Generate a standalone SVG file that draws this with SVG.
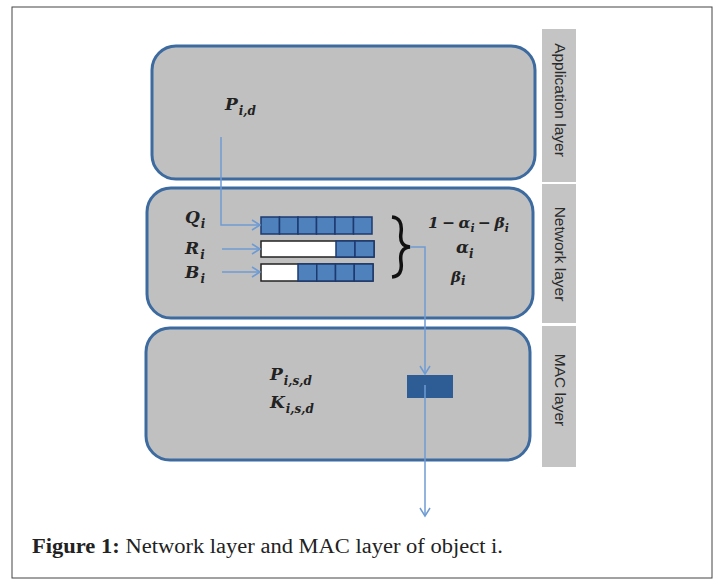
<svg xmlns="http://www.w3.org/2000/svg" width="725" height="586" viewBox="0 0 725 586">
<defs>
<style>
.layer{fill:#c0c0c0;stroke:#3d6b9f;stroke-width:3}
.side{fill:#c4c4c4}
.sidet{font-family:"Liberation Sans",Arial,sans-serif;font-size:15.5px;fill:#2a2a2a;text-anchor:middle}
.m{font-family:"DejaVu Serif","Liberation Serif",serif;font-style:italic;font-weight:bold;fill:#222}
.big{font-size:17px}
.sub{font-size:12px}
.conn{fill:none;stroke:#6e9bd3;stroke-width:1.5}
.cell{fill:#4f81bd;stroke:#1c3a70;stroke-width:1.5}
.bar{fill:#fff;stroke:#222;stroke-width:1.5}
.cap{font-family:"Liberation Serif","Times New Roman",serif;font-size:20px;fill:#222}
</style>
<marker id="ah" markerWidth="12" markerHeight="12" refX="10" refY="6" orient="auto" markerUnits="userSpaceOnUse">
<path d="M2,1 L10,6 L2,11" fill="none" stroke="#6e9bd3" stroke-width="1.5"/>
</marker>
</defs>
<rect x="0" y="0" width="725" height="586" fill="#fff"/>
<rect x="12" y="7" width="700" height="571" fill="none" stroke="#444" stroke-width="1"/>

<g id="side-labels">
<rect class="side" x="542" y="29" width="34" height="153"/>
<rect class="side" x="542" y="184" width="34" height="139"/>
<rect class="side" x="542" y="326" width="34" height="141"/>
<text class="sidet" transform="translate(555,100) rotate(90)">Application layer</text>
<text class="sidet" transform="translate(555,254) rotate(90)">Network layer</text>
<text class="sidet" transform="translate(555,390) rotate(90)">MAC layer</text>
</g>

<g id="application-layer">
<rect class="layer" x="152" y="46" width="383" height="133" rx="24"/>
<text class="m big" x="225" y="110">P<tspan class="sub" dx="1" dy="5">i,d</tspan></text>
</g>

<g id="network-layer">
<rect class="layer" x="147" y="188" width="386" height="130" rx="24"/>
<text class="m big" x="185" y="223">Q<tspan class="sub" dx="1" dy="5">i</tspan></text>
<text class="m big" x="185" y="254">R<tspan class="sub" dx="1" dy="5">i</tspan></text>
<text class="m big" x="185" y="278">B<tspan class="sub" dx="1" dy="5">i</tspan></text>
<g id="queue-q">
<rect class="cell" x="261" y="217" width="18.5" height="17"/>
<rect class="cell" x="279.5" y="217" width="18.5" height="17"/>
<rect class="cell" x="298" y="217" width="18.5" height="17"/>
<rect class="cell" x="316.5" y="217" width="18.5" height="17"/>
<rect class="cell" x="335" y="217" width="18.5" height="17"/>
<rect class="cell" x="353.5" y="217" width="18.5" height="17"/>
</g>
<g id="queue-r">
<rect class="bar" x="261" y="241" width="113" height="16"/>
<rect class="cell" x="336" y="241" width="19" height="16"/>
<rect class="cell" x="355" y="241" width="19" height="16"/>
</g>
<g id="queue-b">
<rect class="bar" x="261" y="264" width="112" height="17"/>
<rect class="cell" x="298" y="264" width="18.75" height="17"/>
<rect class="cell" x="316.75" y="264" width="18.75" height="17"/>
<rect class="cell" x="335.5" y="264" width="18.75" height="17"/>
<rect class="cell" x="354.25" y="264" width="18.75" height="17"/>
</g>
<path d="M392,217 Q403,218 401,233 Q399,246 410,247 Q399,248 401,262 Q403,276 392,277" fill="none" stroke="#111" stroke-width="3.5"/>
<text class="m" x="428" y="228" style="font-size:15.5px;word-spacing:-2px">1 − α<tspan style="font-size:11px" dy="4">i</tspan><tspan dy="-4"> − β</tspan><tspan style="font-size:11px" dy="4">i</tspan></text>
<text class="m big" x="456" y="253">α<tspan class="sub" dy="5">i</tspan></text>
<text class="m big" x="451" y="282" style="font-size:15px">β<tspan class="sub" dy="3">i</tspan></text>
</g>

<g id="mac-layer">
<rect class="layer" x="146" y="328" width="384" height="132" rx="24"/>
<rect x="407" y="375" width="46" height="23" fill="#2e5c94"/>
<text class="m big" x="270" y="380">P<tspan class="sub" dx="1" dy="5">i,s,d</tspan></text>
<text class="m big" x="270" y="408">K<tspan class="sub" dx="1" dy="5">i,s,d</tspan></text>
</g>

<g id="connectors">
<path class="conn" d="M221,137 V225 H260" marker-end="url(#ah)"/>
<path class="conn" d="M222,249 H260" marker-end="url(#ah)"/>
<path class="conn" d="M222,272 H260" marker-end="url(#ah)"/>
<path class="conn" d="M410,247 H425 V374" marker-end="url(#ah)"/>
<path class="conn" d="M425,385 V516" marker-end="url(#ah)"/>
</g>

<g id="caption">
<text class="cap" x="32" y="553" textLength="471" lengthAdjust="spacingAndGlyphs"><tspan font-weight="bold">Figure 1:</tspan> Network layer and MAC layer of object i.</text>
</g>
</svg>
